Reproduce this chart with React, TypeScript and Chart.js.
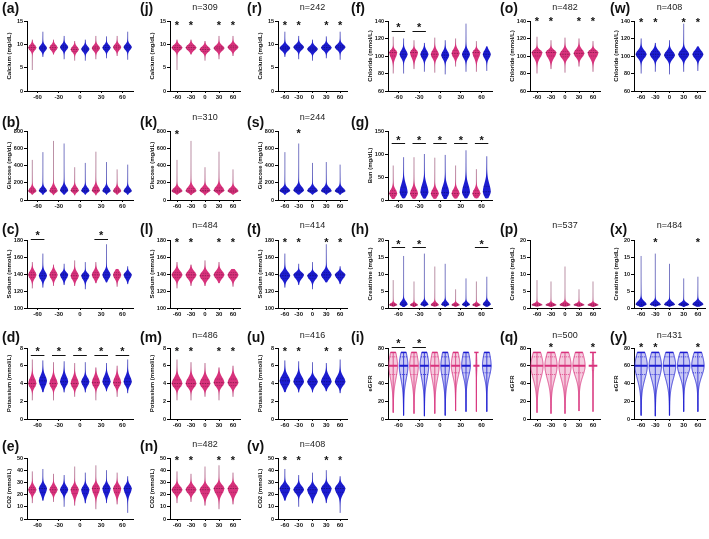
import { useEffect, useRef } from 'react';
import { Chart, registerables } from 'chart.js';

Chart.register(...registerables);

const FONT = "Arial, 'Liberation Sans', Helvetica, sans-serif";
Chart.defaults.font.family = FONT;

const timePoints = ['-60', '-30', '0', '30', '60'];

// Each violin: [min, Q1, median, Q3, max], one per time point
type Violin = number[];

const calciumPink: Violin[] = [
  [4.5, 8.9, 9.3, 9.7, 11.0],
  [7.8, 8.9, 9.3, 9.7, 11.0],
  [6.5, 8.5, 8.9, 9.3, 10.7],
  [6.8, 8.8, 9.2, 9.6, 11.8],
  [7.5, 9.0, 9.4, 9.8, 11.8],
];
const calciumBlue: Violin[] = [
  [7.3, 8.8, 9.2, 9.6, 12.7],
  [6.8, 9.0, 9.4, 9.8, 11.8],
  [6.5, 8.6, 9.0, 9.4, 11.0],
  [7.0, 8.9, 9.3, 9.7, 11.7],
  [6.7, 9.0, 9.4, 9.8, 12.7],
];
const glucosePink: Violin[] = [
  [60, 92, 105, 128, 465],
  [55, 92, 106, 135, 685],
  [55, 95, 110, 135, 380],
  [55, 95, 110, 140, 560],
  [60, 92, 105, 128, 355],
];
const glucoseBlue: Violin[] = [
  [60, 95, 108, 130, 555],
  [60, 95, 112, 140, 655],
  [60, 95, 108, 132, 430],
  [60, 93, 105, 130, 440],
  [60, 93, 105, 128, 410],
];
const sodiumPink: Violin[] = [
  [123, 136, 139, 142, 154],
  [126, 136, 139, 142, 151],
  [126, 135, 138, 141, 156],
  [129, 136, 139, 142, 154],
  [125, 136, 139, 142, 146],
];
const sodiumBlue: Violin[] = [
  [124, 135, 138, 141, 164],
  [127, 136, 139, 141, 152],
  [122, 135, 138, 140, 154],
  [130, 136, 139, 142, 175],
  [128, 136, 139, 141, 149],
];
const potassiumPink: Violin[] = [
  [2.1, 3.7, 4.0, 4.4, 6.7],
  [2.1, 3.7, 4.0, 4.4, 6.4],
  [2.5, 3.7, 4.0, 4.4, 6.3],
  [2.1, 3.8, 4.1, 4.5, 5.8],
  [2.5, 3.8, 4.1, 4.5, 6.0],
];
const potassiumBlue: Violin[] = [
  [3.0, 3.9, 4.3, 4.7, 6.6],
  [3.0, 3.9, 4.2, 4.6, 6.5],
  [3.0, 3.9, 4.2, 4.5, 6.4],
  [3.1, 3.9, 4.2, 4.6, 6.3],
  [2.9, 3.9, 4.2, 4.6, 6.7],
];
const co2Pink: Violin[] = [
  [13, 22, 24, 26, 39],
  [14, 22, 24, 26, 37],
  [11, 21, 24, 26, 43],
  [8, 22, 25, 27, 44],
  [12, 22, 25, 27, 38],
];
const co2Blue: Violin[] = [
  [15, 22, 25, 27, 41],
  [10, 22, 24, 26, 36],
  [13, 21, 24, 26, 38],
  [13, 22, 25, 27, 40],
  [5, 22, 25, 27, 35],
];
const chloridePink: Violin[] = [
  [80, 100, 104, 106, 122],
  [85, 100, 104, 106, 118],
  [81, 99, 102, 105, 121],
  [88, 100, 103, 106, 120],
  [82, 100, 104, 106, 117],
];
const chlorideBlue: Violin[] = [
  [80, 99, 102, 105, 120],
  [82, 99, 102, 105, 115],
  [79, 98, 101, 104, 118],
  [82, 99, 102, 105, 137],
  [83, 99, 102, 105, 111],
];
const bunPink: Violin[] = [
  [2, 9, 14, 20, 75],
  [2, 9, 14, 21, 93],
  [2, 9, 14, 20, 92],
  [3, 9, 14, 20, 75],
  [3, 9, 14, 20, 67],
];
const bunBlue: Violin[] = [
  [3, 11, 17, 28, 93],
  [3, 11, 17, 28, 100],
  [2, 10, 16, 26, 98],
  [3, 11, 17, 28, 108],
  [3, 11, 18, 30, 95],
];
const creatininePink: Violin[] = [
  [0.3, 0.7, 0.9, 1.2, 8.2],
  [0.3, 0.7, 0.9, 1.2, 7.8],
  [0.3, 0.7, 0.9, 1.3, 12.2],
  [0.3, 0.7, 0.9, 1.2, 5.5],
  [0.3, 0.7, 0.9, 1.2, 7.8],
];
const creatinineBlue: Violin[] = [
  [0.3, 0.8, 1.1, 1.7, 15.3],
  [0.3, 0.8, 1.0, 1.5, 16.0],
  [0.3, 0.8, 1.0, 1.5, 13.0],
  [0.3, 0.8, 1.0, 1.4, 8.7],
  [0.3, 0.8, 1.1, 1.6, 9.2],
];
const egfrPink: Violin[] = [
  [7, 50, 60, 70, 75],
  [6, 50, 60, 70, 75],
  [6, 50, 60, 70, 75],
  [9, 52, 60, 70, 75],
  [8, 55, 60, 66, 75],
];
const egfrBlue: Violin[] = [
  [4, 50, 60, 70, 75],
  [3, 50, 60, 70, 75],
  [4, 50, 60, 70, 75],
  [8, 52, 60, 70, 75],
  [8, 52, 60, 70, 75],
];
// relative body width of each eGFR violin (the last pink group is very small)
const egfrPinkWidths = [1, 1, 1, 1, 0.12];

// group sizes shown above the single-group panels
const groupSizes = {
  j: 'n=309', r: 'n=242', o: 'n=482', w: 'n=408',
  k: 'n=310', s: 'n=244',
  l: 'n=484', t: 'n=414', p: 'n=537', x: 'n=484',
  m: 'n=486', u: 'n=416', q: 'n=500', y: 'n=431',
  n: 'n=482', v: 'n=408',
};

const PINK = { body: '#D8327C', tail: 'rgba(170,120,145,0.8)', mid: 'rgba(100,15,55,0.75)', fill: 'rgba(214,47,122,0.25)' };
const BLUE = { body: '#1C1CD0', tail: 'rgba(90,90,180,0.8)', mid: 'rgba(8,8,90,0.75)', fill: 'rgba(40,40,210,0.25)' };
type Tone = typeof PINK;

// ---- layout ----
const COLS: [number, number][] = [[27, 133], [170, 240], [278, 347], [388, 492], [530, 600], [634, 705]];
const ROWS: [number, number][] = [[21, 91], [131, 200], [240, 308], [348, 419], [458, 519]];
const LETTER_X = [2, 140, 247, 351, 500, 610];
const LETTER_Y = [8, 122, 229, 337, 446];
const SIZE_Y = [7, 117, 225, 335, 444];

const PAD_L = 30, PAD_T = 16, PAD_R = 4, PAD_B = 14;
const Y_AXIS_W = 21, X_AXIS_H = 12;

interface Measure { title: string; min: number; max: number; step: number; pink: Violin[]; blue: Violin[]; outlined?: boolean; pinkWidths?: number[] }

const calcium: Measure = { title: 'Calcium (mg/dL)', min: 0, max: 15, step: 5, pink: calciumPink, blue: calciumBlue };
const glucose: Measure = { title: 'Glucose (mg/dL)', min: 0, max: 800, step: 200, pink: glucosePink, blue: glucoseBlue };
const sodium: Measure = { title: 'Sodium (mmol/L)', min: 100, max: 180, step: 20, pink: sodiumPink, blue: sodiumBlue };
const potassium: Measure = { title: 'Potassium (mmol/L)', min: 0, max: 8, step: 2, pink: potassiumPink, blue: potassiumBlue };
const co2: Measure = { title: 'CO2 (mmol/L)', min: 0, max: 50, step: 10, pink: co2Pink, blue: co2Blue };
const chloride: Measure = { title: 'Chloride (mmol/L)', min: 60, max: 140, step: 20, pink: chloridePink, blue: chlorideBlue };
const bun: Measure = { title: 'Bun (mg/dL)', min: 0, max: 150, step: 50, pink: bunPink, blue: bunBlue };
const creatinine: Measure = { title: 'Creatinine (mg/dL)', min: 0, max: 20, step: 5, pink: creatininePink, blue: creatinineBlue };
const egfr: Measure = { title: 'eGFR', min: 0, max: 80, step: 20, pink: egfrPink, blue: egfrBlue, outlined: true, pinkWidths: egfrPinkWidths };

type Mode = 'both' | 'pink' | 'blue';
interface PanelSpec {
  id: string; col: number; row: number; m: Measure; mode: Mode;
  stars?: number[]; bars?: boolean; starDy?: number; barDy?: number;
}

const panels: PanelSpec[] = [
  { id: 'a', col: 0, row: 0, m: calcium, mode: 'both' },
  { id: 'j', col: 1, row: 0, m: calcium, mode: 'pink', stars: [0, 1, 3, 4], starDy: 2 },
  { id: 'r', col: 2, row: 0, m: calcium, mode: 'blue', stars: [0, 1, 3, 4], starDy: 2 },
  { id: 'f', col: 3, row: 0, m: chloride, mode: 'both', stars: [0, 1], bars: true, starDy: 4, barDy: 10 },
  { id: 'o', col: 4, row: 0, m: chloride, mode: 'pink', stars: [0, 1, 3, 4], starDy: -2 },
  { id: 'w', col: 5, row: 0, m: chloride, mode: 'blue', stars: [0, 1, 3, 4], starDy: -1 },
  { id: 'b', col: 0, row: 1, m: glucose, mode: 'both' },
  { id: 'k', col: 1, row: 1, m: glucose, mode: 'pink', stars: [0], starDy: 1 },
  { id: 's', col: 2, row: 1, m: glucose, mode: 'blue', stars: [1], starDy: 0 },
  { id: 'g', col: 3, row: 1, m: bun, mode: 'both', stars: [0, 1, 2, 3, 4], bars: true, starDy: 7, barDy: 12 },
  { id: 'c', col: 0, row: 2, m: sodium, mode: 'both', stars: [0, 3], bars: true, starDy: -7, barDy: -1 },
  { id: 'l', col: 1, row: 2, m: sodium, mode: 'pink', stars: [0, 1, 3, 4], starDy: 0 },
  { id: 't', col: 2, row: 2, m: sodium, mode: 'blue', stars: [0, 1, 3, 4], starDy: 0 },
  { id: 'h', col: 3, row: 2, m: creatinine, mode: 'both', stars: [0, 1, 4], bars: true, starDy: 2, barDy: 7 },
  { id: 'p', col: 4, row: 2, m: creatinine, mode: 'pink' },
  { id: 'x', col: 5, row: 2, m: creatinine, mode: 'blue', stars: [1, 4], starDy: 0 },
  { id: 'd', col: 0, row: 3, m: potassium, mode: 'both', stars: [0, 1, 2, 3, 4], bars: true, starDy: 1, barDy: 7 },
  { id: 'm', col: 1, row: 3, m: potassium, mode: 'pink', stars: [0, 1, 3, 4], starDy: 1 },
  { id: 'u', col: 2, row: 3, m: potassium, mode: 'blue', stars: [0, 1, 3, 4], starDy: 1 },
  { id: 'i', col: 3, row: 3, m: egfr, mode: 'both', stars: [0, 1], bars: true, starDy: -7, barDy: -1 },
  { id: 'q', col: 4, row: 3, m: egfr, mode: 'pink', stars: [1, 4], starDy: -3 },
  { id: 'y', col: 5, row: 3, m: egfr, mode: 'blue', stars: [0, 1, 4], starDy: -3 },
  { id: 'e', col: 0, row: 4, m: co2, mode: 'both' },
  { id: 'n', col: 1, row: 4, m: co2, mode: 'pink', stars: [0, 1, 3, 4], starDy: 0 },
  { id: 'v', col: 2, row: 4, m: co2, mode: 'blue', stars: [0, 1, 3, 4], starDy: 0 },
];

// ---- violin drawing ----
function bodyHalfWidth(val: number, v: Violin, halfW: number) {
  const [, q1, md, q3] = v;
  const spread = Math.max((val >= md ? q3 - md : md - q1) / 0.674, 1e-6);
  const z = Math.abs(val - md) / spread;
  return halfW * (0.88 * Math.exp(-0.5 * z * z) + 0.12 * Math.exp(-z / 2.2));
}

function drawViolin(ctx: CanvasRenderingContext2D, xs: any, ys: any, xVal: number, v: Violin,
  halfW: number, baseHalfW: number, tone: Tone, outlined: boolean) {
  const [mn, q1, md, q3, mx] = v;
  const cx = xs.getPixelForValue(xVal);
  const top = ys.getPixelForValue(mx);
  const bottom = ys.getPixelForValue(mn);
  ctx.save();
  // whisker through the full range
  ctx.strokeStyle = outlined ? tone.body : tone.tail;
  ctx.lineWidth = outlined ? 0.8 : 1;
  ctx.beginPath();
  ctx.moveTo(cx, top);
  ctx.lineTo(cx, bottom);
  ctx.stroke();

  const rows: [number, number][] = [];
  for (let py = top; py <= bottom + 0.01; py += 0.5) {
    rows.push([py, bodyHalfWidth(ys.getValueForPixel(py), v, halfW)]);
  }
  ctx.beginPath();
  rows.forEach(([py, w], i) => (i === 0 ? ctx.moveTo(cx + w, py) : ctx.lineTo(cx + w, py)));
  for (let i = rows.length - 1; i >= 0; i--) ctx.lineTo(cx - rows[i][1], rows[i][0]);
  ctx.closePath();
  if (outlined) {
    ctx.fillStyle = tone.fill;
    ctx.fill();
    ctx.strokeStyle = tone.body;
    ctx.lineWidth = 0.8;
    ctx.stroke();
  } else {
    ctx.fillStyle = tone.body;
    ctx.fill();
  }

  const hline = (val: number, w: number, lw: number, dash: number[], color: string) => {
    const py = ys.getPixelForValue(val);
    ctx.setLineDash(dash);
    ctx.strokeStyle = color;
    ctx.lineWidth = lw;
    ctx.beginPath();
    ctx.moveTo(cx - w, py);
    ctx.lineTo(cx + w, py);
    ctx.stroke();
  };
  if (outlined) {
    hline(q1, bodyHalfWidth(q1, v, halfW), 0.8, [1, 1], tone.body);
    hline(q3, bodyHalfWidth(q3, v, halfW), 0.8, [1, 1], tone.body);
    hline(md, Math.max(halfW, baseHalfW * 0.7), 2, [], tone.body);
    hline(mx, Math.max(bodyHalfWidth(mx, v, halfW), baseHalfW * 0.5), 1.5, [], tone.body);
  } else {
    hline(q1, bodyHalfWidth(q1, v, halfW), 0.5, [1, 1], tone.mid);
    hline(q3, bodyHalfWidth(q3, v, halfW), 0.5, [1, 1], tone.mid);
    hline(md, halfW, 0.8, [1.5, 1], tone.mid);
  }
  ctx.restore();
}

function makeViolinPlugin(spec: PanelSpec) {
  return {
    id: 'violinMarks',
    afterDatasetsDraw(chart: any) {
      const ctx: CanvasRenderingContext2D = chart.ctx;
      const xs = chart.scales.x;
      const ys = chart.scales.y;
      const area = chart.chartArea;
      const paired = spec.mode === 'both';
      const slot = xs.getPixelForValue(2) - xs.getPixelForValue(1);
      const ratio = spec.m.outlined ? (paired ? 0.42 : 0.44) : 0.38;
      const baseHalfW = slot * ratio;

      chart.data.datasets.forEach((ds: any) => {
        ds.violins.forEach((v: Violin, i: number) => {
          const factor = ds.widths ? ds.widths[i] : 1;
          drawViolin(ctx, xs, ys, ds.data[i].x, v, baseHalfW * factor, baseHalfW, ds.tone, !!spec.m.outlined);
        });
      });

      // significance marks
      const stars = spec.stars || [];
      ctx.save();
      ctx.fillStyle = '#111';
      ctx.strokeStyle = '#111';
      ctx.font = `bold 11px ${FONT}`;
      ctx.textAlign = 'center';
      ctx.textBaseline = 'alphabetic';
      stars.forEach((t) => {
        let cx: number;
        if (paired) {
          const xa = xs.getPixelForValue(2 * t + 1);
          const xb = xs.getPixelForValue(2 * t + 2);
          cx = (xa + xb) / 2;
          if (spec.bars) {
            const by = Math.round(area.top + (spec.barDy || 0)) + 0.5;
            ctx.lineWidth = 1;
            ctx.beginPath();
            ctx.moveTo(xa - 1.5, by);
            ctx.lineTo(xb + 1.5, by);
            ctx.stroke();
          }
        } else {
          cx = xs.getPixelForValue(t + 1);
        }
        const cy = area.top + (spec.starDy || 0);
        ctx.fillText('*', cx, cy + 6.3);
      });
      ctx.restore();
    },
  };
}

function buildConfig(spec: PanelSpec): any {
  const paired = spec.mode === 'both';
  const count = paired ? 10 : 5;
  const m = spec.m;
  const datasets: any[] = [];
  if (spec.mode !== 'blue') {
    datasets.push({
      label: 'pink',
      data: m.pink.map((v, i) => ({ x: paired ? 2 * i + 1 : i + 1, y: v[2] })),
      violins: m.pink, widths: m.pinkWidths, tone: PINK,
      pointRadius: 0, showLine: false,
    });
  }
  if (spec.mode !== 'pink') {
    datasets.push({
      label: 'blue',
      data: m.blue.map((v, i) => ({ x: paired ? 2 * i + 2 : i + 1, y: v[2] })),
      violins: m.blue, tone: BLUE,
      pointRadius: 0, showLine: false,
    });
  }
  const tickPos = paired ? [1.5, 3.5, 5.5, 7.5, 9.5] : [1, 2, 3, 4, 5];
  return {
    type: 'scatter',
    data: { datasets },
    options: {
      responsive: false,
      animation: false,
      events: [],
      layout: { padding: { left: PAD_L - Y_AXIS_W, top: PAD_T, right: PAD_R, bottom: PAD_B - X_AXIS_H } },
      plugins: { legend: { display: false }, tooltip: { enabled: false } },
      scales: {
        x: {
          type: 'linear',
          min: 0.5,
          max: count + 0.5,
          afterBuildTicks: (s: any) => { s.ticks = tickPos.map((value) => ({ value })); },
          afterFit: (s: any) => { s.height = X_AXIS_H; },
          ticks: {
            callback: (_v: any, i: number) => timePoints[i],
            font: { size: 6, weight: 'bold', family: FONT }, color: '#111', padding: 1, maxRotation: 0, autoSkip: false,
          },
          grid: { drawOnChartArea: false, tickLength: 2, color: '#000', lineWidth: 1 },
          border: { color: '#000', width: 1 },
        },
        y: {
          type: 'linear',
          min: m.min,
          max: m.max,
          afterFit: (s: any) => { s.width = Y_AXIS_W; },
          ticks: { stepSize: m.step, font: { size: 5.5, weight: 'bold', family: FONT }, color: '#111', padding: 1 },
          grid: { drawOnChartArea: false, tickLength: 3, color: '#000', lineWidth: 1 },
          border: { color: '#000', width: 1 },
          title: { display: true, text: m.title, font: { size: 6, weight: 'bold', family: FONT }, color: '#111', padding: 0 },
        },
      },
    },
    plugins: [makeViolinPlugin(spec)],
  };
}

function Panel({ spec }: { spec: PanelSpec }) {
  const ref = useRef<HTMLCanvasElement>(null);
  const [x0, x1] = COLS[spec.col];
  const [y0, y1] = ROWS[spec.row];
  const left = x0 - PAD_L;
  const top = y0 - PAD_T;
  const width = x1 - x0 + PAD_L + PAD_R;
  const height = y1 - y0 + PAD_T + PAD_B;

  useEffect(() => {
    if (!ref.current) return;
    const chart = new Chart(ref.current, buildConfig(spec));
    return () => chart.destroy();
  }, [spec]);

  const size = (groupSizes as any)[spec.id] as string | undefined;
  return (
    <>
      <canvas ref={ref} width={width} height={height}
        style={{ position: 'absolute', left, top, width, height }} />
      <div style={{
        position: 'absolute', left: LETTER_X[spec.col], top: LETTER_Y[spec.row] - 8,
        font: `bold 14px ${FONT}`, lineHeight: '16px', color: '#111', whiteSpace: 'nowrap',
      }}>({spec.id})</div>
      {size && (
        <div style={{
          position: 'absolute', left: (x0 + x1) / 2, top: SIZE_Y[spec.row],
          transform: 'translate(-50%, -50%)', font: `9px ${FONT}`, color: '#222', whiteSpace: 'nowrap',
        }}>{size}</div>
      )}
    </>
  );
}

export default function App() {
  return (
    <div style={{ position: 'fixed', left: 0, top: 0, width: 709, height: 539, background: '#fff', overflow: 'hidden' }}>
      {panels.map((p) => <Panel key={p.id} spec={p} />)}
    </div>
  );
}
